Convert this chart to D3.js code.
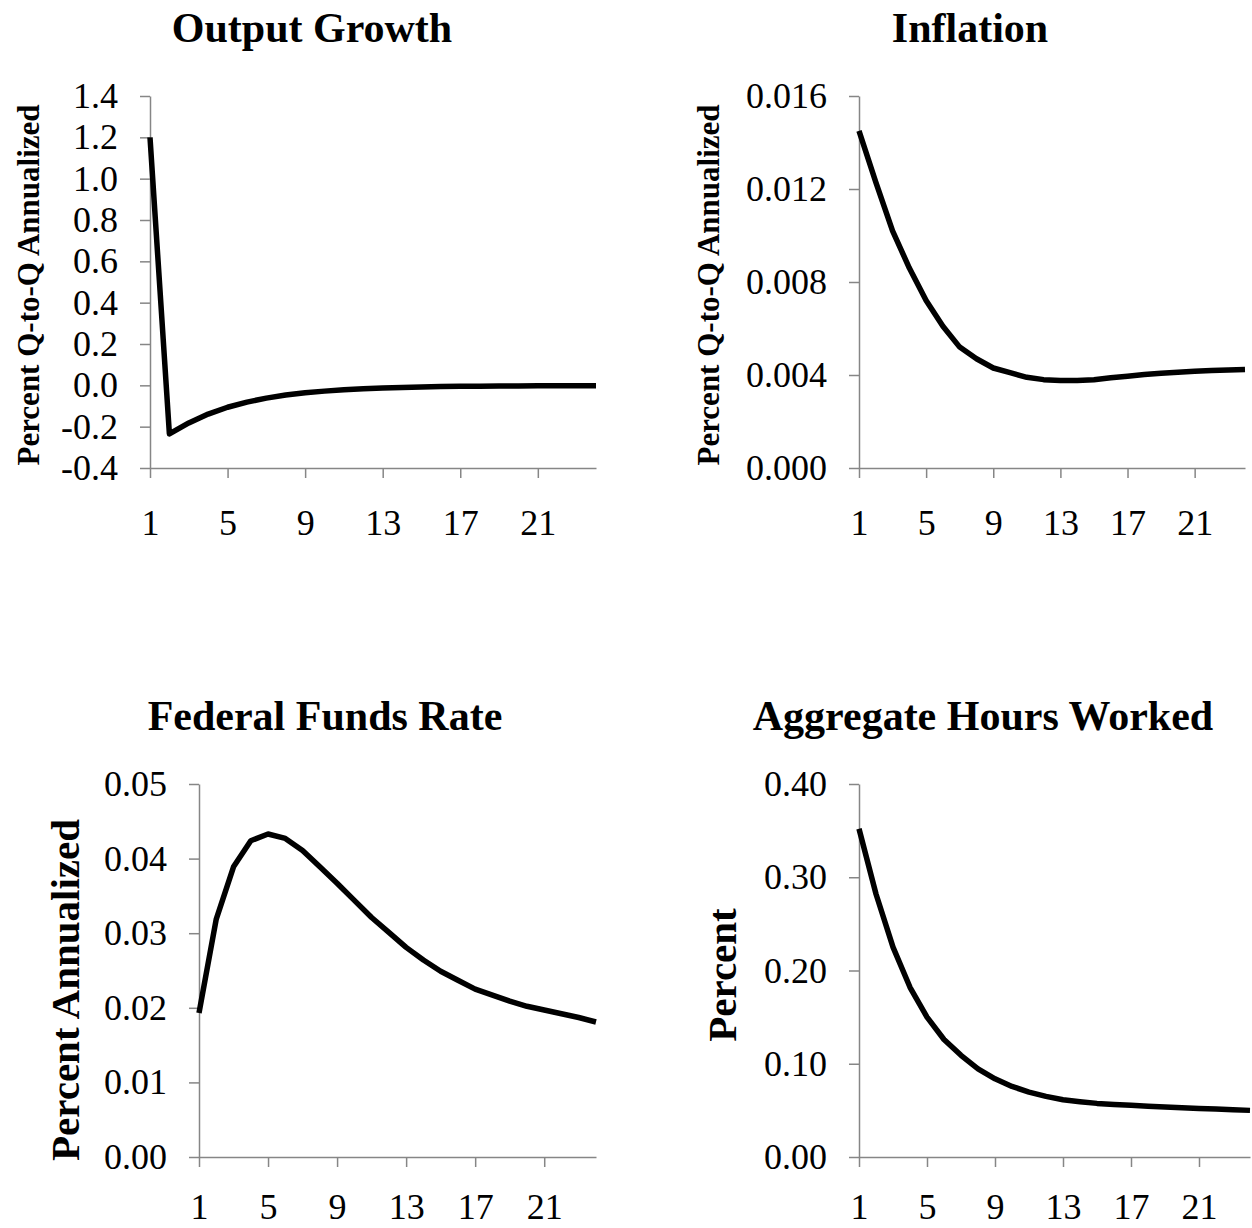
<!DOCTYPE html>
<html>
<head>
<meta charset="utf-8">
<script src="https://cdn.jsdelivr.net/npm/d3@7"></script>
<style>
    body { margin: 0; background: #fff; }
    svg { display: block; font-family: "Liberation Serif", "Times New Roman", serif; }
    .axis path, .axis line { stroke: #868686; stroke-width: 1.5; }
    .axis text { fill: #000; }
</style>
</head>
<body>
<svg id="chart" width="1252" height="1228"></svg>
<script>
// quarters after the shock
var periods = [1, 2, 3, 4, 5, 6, 7, 8, 9, 10, 11, 12, 13, 14, 15, 16, 17, 18, 19, 20, 21, 22, 23, 24];
var periodTicks = [1, 5, 9, 13, 17, 21];

var outputGrowth = [1.20, -0.235, -0.182, -0.139, -0.106, -0.081, -0.062, -0.047, -0.036, -0.028, -0.021, -0.016,
    -0.013, -0.010, -0.008, -0.006, -0.005, -0.004, -0.003, -0.003, -0.002, -0.002, -0.002, -0.002];
var inflation = [0.0145, 0.0123, 0.0102, 0.0086, 0.0072, 0.0061, 0.0052, 0.0047, 0.0043, 0.0041, 0.0039, 0.0038,
    0.00376, 0.00376, 0.0038, 0.00388, 0.00395, 0.00402, 0.00408, 0.00412, 0.00416, 0.00419, 0.00422, 0.00424];
var fedFunds = [0.0193, 0.0319, 0.0389, 0.0424, 0.0433, 0.0427, 0.0411, 0.0389, 0.0367, 0.0344, 0.0321, 0.0301,
    0.0281, 0.0264, 0.0249, 0.0237, 0.0225, 0.0217, 0.0209, 0.0202, 0.0197, 0.0192, 0.0187, 0.0181];
var hoursWorked = [0.352, 0.282, 0.225, 0.182, 0.150, 0.126, 0.109, 0.0946, 0.0839, 0.0757, 0.0696, 0.0650,
    0.0614, 0.0593, 0.0575, 0.0564, 0.0554, 0.0543, 0.0536, 0.0529, 0.0521, 0.0514, 0.0507, 0.0500];

var outputTicks = [-0.4, -0.2, 0.0, 0.2, 0.4, 0.6, 0.8, 1.0, 1.2, 1.4];
var inflationTicks = [0.000, 0.004, 0.008, 0.012, 0.016];
var fedTicks = [0.00, 0.01, 0.02, 0.03, 0.04, 0.05];
var hoursTicks = [0.00, 0.10, 0.20, 0.30, 0.40];

var titles = ["Output Growth", "Inflation", "Federal Funds Rate", "Aggregate Hours Worked"];
var yLabels = ["Percent Q-to-Q Annualized", "Percent Q-to-Q Annualized", "Percent Annualized", "Percent"];

// panel layout (pixels)
var panels = [
    { values: outputGrowth, ticks: outputTicks, digits: 1, left: 150, right: 596, top: 96, bottom: 468, xPad: 31,
      titleX: 312, titleY: 42, labelX: 28, labelY: 285, labelSize: 31 },
    { values: inflation, ticks: inflationTicks, digits: 3, left: 859, right: 1245, top: 96, bottom: 468, xPad: 31,
      titleX: 970, titleY: 42, labelX: 708, labelY: 285, labelSize: 31 },
    { values: fedFunds, ticks: fedTicks, digits: 2, left: 199, right: 596, top: 784, bottom: 1157, xPad: 26,
      titleX: 325, titleY: 730, labelX: 65, labelY: 990, labelSize: 41 },
    { values: hoursWorked, ticks: hoursTicks, digits: 2, left: 859, right: 1250, top: 784, bottom: 1157, xPad: 26,
      titleX: 983, titleY: 730, labelX: 722, labelY: 975, labelSize: 41 }
];

var svg = d3.select("#chart");

panels.forEach(function(p, i) {
    var x = d3.scaleLinear().domain([1, 24]).range([p.left, p.right]);
    var y = d3.scaleLinear().domain(d3.extent(p.ticks)).range([p.bottom, p.top]);

    var yAxis = d3.axisLeft(y)
        .tickValues(p.ticks)
        .tickFormat(function(d) { return d.toFixed(p.digits); })
        .tickSize(10)
        .tickSizeOuter(0)
        .tickPadding(22);

    var xAxis = d3.axisBottom(x)
        .tickValues(periodTicks)
        .tickFormat(d3.format("d"))
        .tickSize(10)
        .tickSizeOuter(0)
        .tickPadding(p.xPad);

    svg.append("g")
        .attr("class", "axis")
        .attr("transform", `translate(${p.left},0)`)
        .call(yAxis)
        .attr("font-family", null)
        .attr("font-size", 36);

    svg.append("g")
        .attr("class", "axis")
        .attr("transform", `translate(0,${p.bottom})`)
        .call(xAxis)
        .attr("font-family", null)
        .attr("font-size", 36);

    var line = d3.line()
        .x(function(d, j) { return x(periods[j]); })
        .y(function(d) { return y(d); });

    svg.append("path")
        .datum(p.values)
        .attr("d", line)
        .attr("fill", "none")
        .attr("stroke", "#000")
        .attr("stroke-width", 5.5)
        .attr("stroke-linejoin", "round");

    svg.append("text")
        .attr("x", p.titleX)
        .attr("y", p.titleY)
        .attr("text-anchor", "middle")
        .attr("font-size", 42)
        .attr("font-weight", "bold")
        .text(titles[i]);

    svg.append("text")
        .attr("transform", `translate(${p.labelX},${p.labelY}) rotate(-90)`)
        .attr("text-anchor", "middle")
        .attr("dy", "0.35em")
        .attr("font-size", p.labelSize)
        .attr("font-weight", "bold")
        .text(yLabels[i]);
});
</script>
</body>
</html>
